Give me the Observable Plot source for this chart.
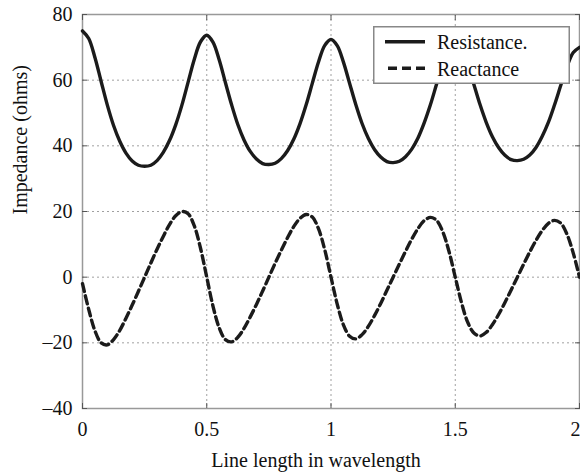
<!DOCTYPE html>
<html><head><meta charset="utf-8">
<script src="https://cdn.jsdelivr.net/npm/d3@7"></script>
<script src="https://cdn.jsdelivr.net/npm/@observablehq/plot@0.6"></script>
<style>
body{margin:0;background:#fff;}
#wrap{position:relative;width:580px;height:473px;overflow:hidden;background:#fff;}
#legend{position:absolute;left:373px;top:26px;}
</style></head><body><div id="wrap"><div id="legend"></div></div>
<script>
const lengths = [0,0.025,0.05,0.075,0.1,0.125,0.15,0.175,0.2,0.225,0.25,0.275,0.3,0.325,0.35,0.375,0.4,0.425,0.45,0.475,
0.5,0.525,0.55,0.575,0.6,0.625,0.65,0.675,0.7,0.725,0.75,0.775,0.8,0.825,0.85,0.875,0.9,0.925,0.95,0.975,
1,1.025,1.05,1.075,1.1,1.125,1.15,1.175,1.2,1.225,1.25,1.275,1.3,1.325,1.35,1.375,1.4,1.425,1.45,1.475,
1.5,1.525,1.55,1.575,1.6,1.625,1.65,1.675,1.7,1.725,1.75,1.775,1.8,1.825,1.85,1.875,1.9,1.925,1.95,1.975,2];
const resistance = [75.0,72.7,66.9,59.6,52.4,46.2,41.4,37.8,35.4,34.1,33.8,34.1,35.5,38.0,41.6,46.4,52.4,59.4,66.4,71.7,
73.7,71.6,66.2,59.3,52.5,46.5,41.8,38.3,36.0,34.6,34.3,34.7,36.1,38.5,42.0,46.7,52.5,59.1,65.6,70.6,
72.4,70.5,65.5,59.0,52.5,46.8,42.3,38.9,36.6,35.2,34.9,35.3,36.7,39.0,42.4,47.0,52.5,58.8,64.9,69.5,
71.2,69.4,64.8,58.7,52.5,47.1,42.7,39.4,37.1,35.8,35.5,35.9,37.2,39.5,42.9,47.2,52.6,58.5,64.2,68.4,70.0];
const reactance = [-2,-9.8,-16.3,-20.0,-20.6,-19.0,-16.2,-12.5,-8.5,-4.3,0,4.3,8.5,12.4,16.0,18.7,20.0,19.3,15.6,8.8,
0,-8.8,-15.4,-19.0,-19.7,-18.3,-15.6,-12.1,-8.3,-4.2,0,4.2,8.2,12.0,15.4,17.9,19.1,18.3,14.7,8.3,
0,-8.2,-14.5,-18.0,-18.8,-17.5,-15.0,-11.7,-8.0,-4.0,0,4.0,7.9,11.6,14.8,17.2,18.2,17.3,13.8,7.8,
0,-7.7,-13.7,-17.0,-17.9,-16.8,-14.4,-11.3,-7.7,-3.9,0,3.9,7.7,11.2,14.2,16.4,17.3,16.4,13.0,7.3,0];
const seriesNames = ["Resistance.", "Reactance"];
const xTicks = [0, 0.5, 1, 1.5, 2];
const yTicks = [-40, -20, 0, 20, 40, 60, 80];
const xLabel = "Line length in wavelength";
const yLabel = "Impedance (ohms)";

const rows = lengths.map((l, i) => ({l, r: resistance[i], x: reactance[i]}));
const font = "'Liberation Serif', 'Times New Roman', serif";
const fmtY = d => d < 0 ? "\u2013" + Math.abs(d) : String(d);
const ink = "#1b1b1b";
const gridStyle = {stroke: "#a0a0a0", strokeOpacity: 1, strokeDasharray: "2,3", strokeWidth: 1};
const xInner = xTicks.slice(0, -1);
const xLast = xTicks.slice(-1);

const chart = Plot.plot({
  width: 580, height: 473,
  marginLeft: 82, marginRight: 1, marginTop: 14, marginBottom: 65,
  style: {fontFamily: font, fontSize: "20px", color: "#111", background: "#fff", overflow: "visible"},
  x: {domain: [0, 2]},
  y: {domain: [-40, 80]},
  marks: [
    Plot.gridX(xTicks, gridStyle),
    Plot.gridY(yTicks, gridStyle),
    Plot.frame({stroke: "#999", strokeWidth: 1.5}),
    Plot.axisX(xTicks, {anchor: "bottom", tickSize: -5, tickFormat: () => "", label: null, stroke: "#555"}),
    Plot.axisX(xTicks, {anchor: "top", tickSize: -5, tickFormat: () => "", label: null, stroke: "#555"}),
    Plot.axisY(yTicks, {anchor: "left", tickSize: -5, tickFormat: () => "", label: null, stroke: "#555"}),
    Plot.axisY(yTicks, {anchor: "right", tickSize: -5, tickFormat: () => "", label: null, stroke: "#555"}),
    Plot.axisX(xInner, {anchor: "bottom", tickSize: 0, tickPadding: 13, label: null, tickFormat: d => String(d), fontSize: 20, fill: "#111"}),
    Plot.axisX(xLast, {anchor: "bottom", tickSize: 0, tickPadding: 13, label: null, tickFormat: d => String(d), fontSize: 20, fill: "#111", textAnchor: "end", dx: 1}),
    Plot.axisY(yTicks, {anchor: "left", tickSize: 0, tickPadding: 10, label: null, tickFormat: fmtY, fontSize: 20, fill: "#111"}),
    Plot.line(rows, {x: "l", y: "r", stroke: ink, strokeWidth: 3.4, curve: "catmull-rom"}),
    Plot.line(rows, {x: "l", y: "x", stroke: ink, strokeWidth: 3.4, strokeDasharray: "8,4.5", curve: "catmull-rom"}),
    Plot.text([yLabel], {text: d => d, frameAnchor: "left", rotate: -90, dx: -62, dy: 3, fontSize: 20, fill: "#111"}),
    Plot.text([xLabel], {text: d => d, frameAnchor: "bottom", dx: -15, dy: 58, fontSize: 20, fill: "#111"})
  ]
});
document.getElementById("wrap").insertBefore(chart, document.getElementById("legend"));

// legend
const lg = d3.select("#legend").append("svg").attr("width", 197).attr("height", 58)
  .style("font-family", font).style("display", "block");
lg.append("rect").attr("x", 0.75).attr("y", 0.75).attr("width", 195.5).attr("height", 56.5)
  .attr("fill", "#fff").attr("stroke", "#888").attr("stroke-width", 1.5);
const dashes = [null, "9,5"];
seriesNames.forEach((name, i) => {
  const yy = 15.7 + i * 26.6;
  lg.append("line").attr("x1", i ? 15 : 12).attr("x2", 52).attr("y1", yy).attr("y2", yy)
    .attr("stroke", ink).attr("stroke-width", 3.5).attr("stroke-dasharray", dashes[i]);
  lg.append("text").attr("x", 64).attr("y", yy + 7.5).attr("font-size", 20).attr("fill", "#111").text(name);
});
</script>
</body></html>
